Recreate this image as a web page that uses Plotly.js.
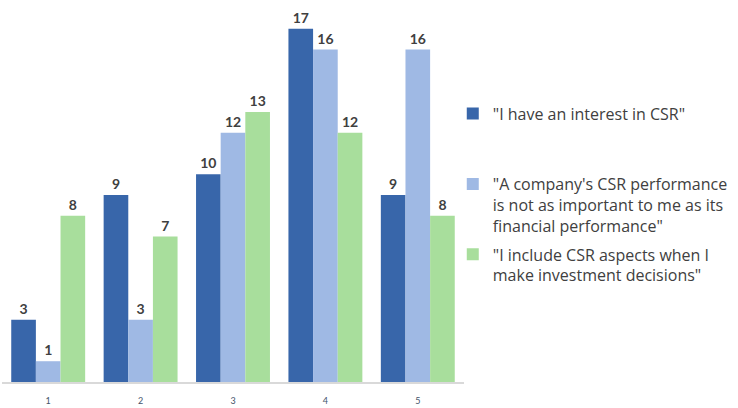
<!DOCTYPE html>
<html>
<head>
<meta charset="utf-8">
<script src="https://cdn.plot.ly/plotly-3.0.1.min.js"></script>
<style>html,body{margin:0;padding:0;background:#fff;}#chart{width:738px;height:408px;}</style>
</head>
<body>
<div id="chart"></div>
<script>
var categories = ['1', '2', '3', '4', '5'];
var seriesNames = [
  '"I have an interest in CSR"<br> <br> ',
  '"A company\'s CSR performance<br>is not as important to me as its<br>financial performance"',
  '"I include CSR aspects when I<br>make investment decisions"'
];
var interestCSR = [3, 9, 10, 17, 9];
var notAsImportant = [1, 3, 12, 16, 16];
var includeCSR = [8, 7, 13, 12, 8];
var colors = ['#3866AA', '#9FB9E4', '#A8DE9C'];

var values = [interestCSR, notAsImportant, includeCSR];
var traces = values.map(function (v, i) {
  return {
    type: 'bar',
    x: categories,
    y: v,
    name: seriesNames[i],
    legendgroup: 'g' + i,
    marker: {color: colors[i]},
    text: v.map(String),
    textposition: 'outside',
    cliponaxis: false,
    textfont: {family: 'Lato, sans-serif', size: 14, color: '#404040', weight: 'bold'},
    hoverinfo: 'none'
  };
});

var layout = {
  width: 738,
  height: 408,
  margin: {l: 2, r: 274, t: 8, b: 26},
  paper_bgcolor: '#fff',
  plot_bgcolor: '#fff',
  barmode: 'group',
  bargap: 0.2,
  bargroupgap: 0,
  font: {family: 'Lato, sans-serif', color: '#404040'},
  xaxis: {
    type: 'category',
    showgrid: false,
    zeroline: false,
    showline: true,
    linecolor: '#D9D9D9',
    linewidth: 1.5,
    ticks: 'outside',
    ticklen: 10,
    tickcolor: 'rgba(0,0,0,0)',
    tickfont: {size: 9, color: '#44546A'},
    fixedrange: true
  },
  yaxis: {
    range: [0, 18],
    visible: false,
    fixedrange: true
  },
  showlegend: true,
  legend: {
    x: 0.9757, xanchor: 'left',
    y: 0.763, yanchor: 'top',
    valign: 'top',
    traceorder: 'grouped',
    bgcolor: 'rgba(0,0,0,0)',
    font: {size: 16, color: '#404040', family: '"Open Sans", sans-serif'},
    tracegroupgap: 5,
    itemclick: false,
    itemdoubleclick: false
  }
};

Plotly.newPlot('chart', traces, layout, {displayModeBar: false, staticPlot: true});
</script>
</body>
</html>
